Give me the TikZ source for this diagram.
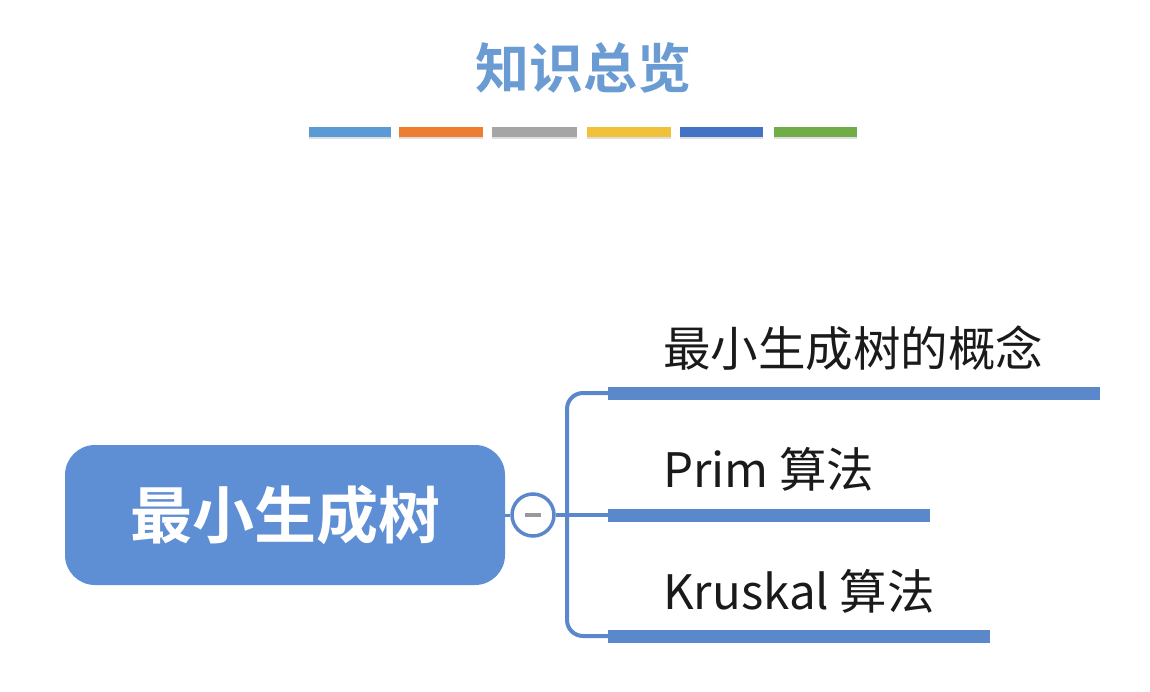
\documentclass[tikz,border=0pt]{standalone}
\usepackage{fontspec}
\setmainfont{Noto Sans CJK SC}
\newfontfamily\cjk{Noto Sans CJK SC}
\newfontfamily\cjkb{Noto Sans CJK SC Bold}
\usetikzlibrary{shadows}
\definecolor{titleblue}{HTML}{6A9BD3}
\definecolor{boxblue}{HTML}{5E8ED4}
\definecolor{lineblue}{HTML}{5B87CB}
\definecolor{barA}{HTML}{5B9BD5}
\definecolor{barB}{HTML}{ED7D31}
\definecolor{barC}{HTML}{A5A5A5}
\definecolor{barD}{HTML}{F2C13A}
\definecolor{barE}{HTML}{4472C4}
\definecolor{barF}{HTML}{70AD47}
\definecolor{txt}{HTML}{1A1A1A}
\tikzset{
  colbar/.style={inner sep=0pt, minimum width=83pt, minimum height=10pt, drop shadow={opacity=0.25, shadow xshift=0pt, shadow yshift=-2pt}},
  leafbar/.style={fill=lineblue, draw=none},
  leaflabel/.style={anchor=west, inner sep=0pt, text=txt, font=\cjk\fontsize{47.5}{50}\selectfont},
  conn/.style={draw=lineblue, line width=4pt}
}
\begin{document}
\begin{tikzpicture}[x=1pt,y=-1pt]
\useasboundingbox (0,0) rectangle (1150,692);
\fill[white] (0,0) rectangle (1150,692);
% title
\node[text=titleblue, font=\cjkb\fontsize{54}{60}\selectfont, inner sep=0pt] (title) at (583,68) {知识总览};
% colour bars
\node[colbar, fill=barA, minimum width=82pt] (b1) at (350,132) {};
\node[colbar, fill=barB, minimum width=84pt] (b2) at (441,132) {};
\node[colbar, fill=barC, minimum width=85pt] (b3) at (534.5,132) {};
\node[colbar, fill=barD, minimum width=84pt] (b4) at (629,132) {};
\node[colbar, fill=barE, minimum width=83pt] (b5) at (721.5,132) {};
\node[colbar, fill=barF, minimum width=83pt] (b6) at (815.5,132) {};
% main box
\node[fill=boxblue, rounded corners=30pt, minimum width=440pt, minimum height=140pt, inner sep=0pt,
      text=white, font=\cjkb\fontsize{62}{66}\selectfont] (root) at (285,515) {最小生成树};
% collapse circle
\node[circle, draw=lineblue, line width=3.5pt, fill=white, minimum size=42pt, inner sep=0pt] (tog) at (533,515) {};
\draw[draw=gray!80, line width=3.5pt] ([xshift=-8pt]tog.center) -- ([xshift=8pt]tog.center);
\draw[conn, line width=3pt] (root.east) -- (tog.west);
% junction and branches
\coordinate (j) at (567,515);
\draw[conn] (tog.east) -- (j);
% leaf bars
\node[leafbar, inner sep=0pt, minimum width=492pt, minimum height=13pt, anchor=west] (l1) at (608,393) {};
\node[leafbar, inner sep=0pt, minimum width=322pt, minimum height=13pt, anchor=west] (l2) at (608,515) {};
\node[leafbar, inner sep=0pt, minimum width=382pt, minimum height=13pt, anchor=west] (l3) at (608,636) {};
\draw[conn, rounded corners=16pt] (l1.west) -| (j) |- (l3.west);
\draw[conn] (j) -- (l2.west);
% labels
\node[leaflabel] (t1) at (663,348) {最小生成树的概念};
\node[leaflabel] (t2) at (663,469) {Prim 算法};
\node[leaflabel] (t3) at (663,591) {Kruskal 算法};
\end{tikzpicture}
\end{document}
